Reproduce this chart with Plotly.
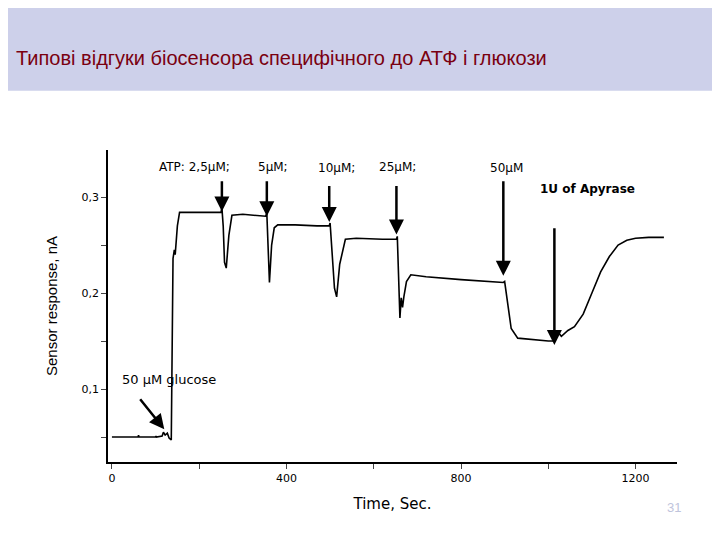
import plotly.graph_objects as go

# trace (time in s, response in nA)
time_s = [0, 60, 61, 62, 100, 101, 102, 115, 118, 122, 127, 131, 136, 140, 143, 145,
          150, 155, 200, 240, 250, 252, 255, 258, 262, 268, 275, 300, 340, 352, 355,
          358, 361, 366, 372, 380, 420, 470, 498, 500, 505, 510, 515, 522, 535, 560,
          620, 652, 654, 657, 660, 663, 666, 669, 675, 685, 720, 800, 880, 897, 900,
          905, 915, 930, 950, 975, 1000, 1012, 1014, 1018, 1023, 1030, 1045, 1060,
          1080, 1100, 1120, 1140, 1160, 1180, 1200, 1230, 1265]
response = [0.050, 0.050, 0.052, 0.050, 0.050, 0.051, 0.050, 0.051, 0.055, 0.052, 0.054,
            0.049, 0.047, 0.236, 0.245, 0.240, 0.270, 0.284, 0.284, 0.284, 0.284, 0.289,
            0.270, 0.232, 0.226, 0.260, 0.281, 0.282, 0.280, 0.280, 0.283, 0.255, 0.211,
            0.250, 0.268, 0.271, 0.271, 0.270, 0.270, 0.273, 0.240, 0.205, 0.196, 0.230,
            0.256, 0.257, 0.256, 0.256, 0.259, 0.210, 0.174, 0.195, 0.185, 0.196, 0.212,
            0.219, 0.217, 0.214, 0.212, 0.211, 0.212, 0.195, 0.163, 0.153, 0.152, 0.151,
            0.150, 0.150, 0.150, 0.157, 0.159, 0.155, 0.161, 0.165, 0.178, 0.200, 0.222,
            0.238, 0.250, 0.255, 0.257, 0.258, 0.258]

# arrows: label, text x, text y, arrow x, arrow tail y, arrow head y
labels = ["ATP: 2,5μM;", "5μM;", "10μM;", "25μM;", "50μM", "<b>1U of Apyrase</b>"]
label_x = [190, 370, 515, 655, 905, 1090]
label_y = [0.331, 0.331, 0.330, 0.331, 0.330, 0.308]
arrow_x = [252, 355, 498, 652, 897, 1014]
arrow_tail = [0.318, 0.318, 0.313, 0.313, 0.318, 0.269]
arrow_head = [0.285, 0.280, 0.274, 0.261, 0.218, 0.146]
tick_vals = [0.05, 0.1, 0.15, 0.2, 0.25, 0.3]
tick_text = ["", "0,1", "", "0,2", "", "0,3"]

fig = go.Figure()
fig.add_trace(go.Scatter(x=time_s, y=response, mode="lines",
                         line=dict(color="black", width=1.6), showlegend=False))

font = dict(family="DejaVu Sans", size=12, color="black")
for lab, lx, ly, ax_, t, h in zip(labels, label_x, label_y, arrow_x, arrow_tail, arrow_head):
    fig.add_annotation(x=lx, y=ly, text=lab, showarrow=False, font=font)
    fig.add_annotation(x=ax_, y=h, ax=ax_, ay=t, axref="x", ayref="y", text="",
                       showarrow=True, arrowhead=2, arrowsize=1.2, arrowwidth=2.5,
                       arrowcolor="black")
fig.add_annotation(x=130, y=0.110, text="50 μM glucose", showarrow=False,
                   font=dict(family="DejaVu Sans", size=13, color="black"))
fig.add_annotation(x=120, y=0.058, ax=62, ay=0.091, axref="x", ayref="y", text="",
                   showarrow=True, arrowhead=2, arrowsize=1.2, arrowwidth=2.5,
                   arrowcolor="black")
fig.add_annotation(x=620, y=0.366, text="<b>A</b>", showarrow=False,
                   font=dict(family="Liberation Sans, Arial", size=18, color="black"))

# slide header band and title
fig.add_shape(type="rect", xref="paper", yref="paper", x0=-0.5, x1=1.5, y0=1.19, y1=2.0,
              fillcolor="#cdd0ea", line_width=0, layer="below")
fig.add_annotation(xref="paper", yref="paper", x=-0.165, y=1.337, xanchor="left",
                   text="Типові відгуки біосенсора специфічного до АТФ і глюкози",
                   showarrow=False,
                   font=dict(family="Liberation Sans, Arial", size=20, color="#7a0010"))
fig.add_annotation(xref="paper", yref="paper", x=1.01, y=-0.175, text="31",
                   showarrow=False, font=dict(family="Liberation Sans", size=13, color="#c0c4dc"))

fig.update_layout(
    width=720, height=540, paper_bgcolor="white", plot_bgcolor="white",
    margin=dict(l=100, r=51, t=142, b=86),
    xaxis=dict(range=[-9, 1295], tickvals=[0, 200, 400, 600, 800, 1000, 1200],
               ticktext=["0", "", "400", "", "800", "", "1200"],
               ticks="outside", ticklen=5, showgrid=False, zeroline=False,
               showline=True, linecolor="black", linewidth=1.5,
               tickfont=dict(family="DejaVu Sans", size=11, color="black"),
               title=dict(text="Time, Sec.", font=dict(family="DejaVu Sans", size=15, color="black"))),
    yaxis=dict(range=[0.024, 0.349], tickvals=tick_vals, ticktext=tick_text,
               ticks="outside", ticklen=5, showgrid=False, zeroline=False,
               showline=True, linecolor="black", linewidth=1.5,
               tickfont=dict(family="DejaVu Sans", size=11, color="black"),
               title=dict(text="Sensor response, nA", standoff=20,
                          font=dict(family="Liberation Sans", size=15, color="black"))),
)

fig.write_html("out.html")
